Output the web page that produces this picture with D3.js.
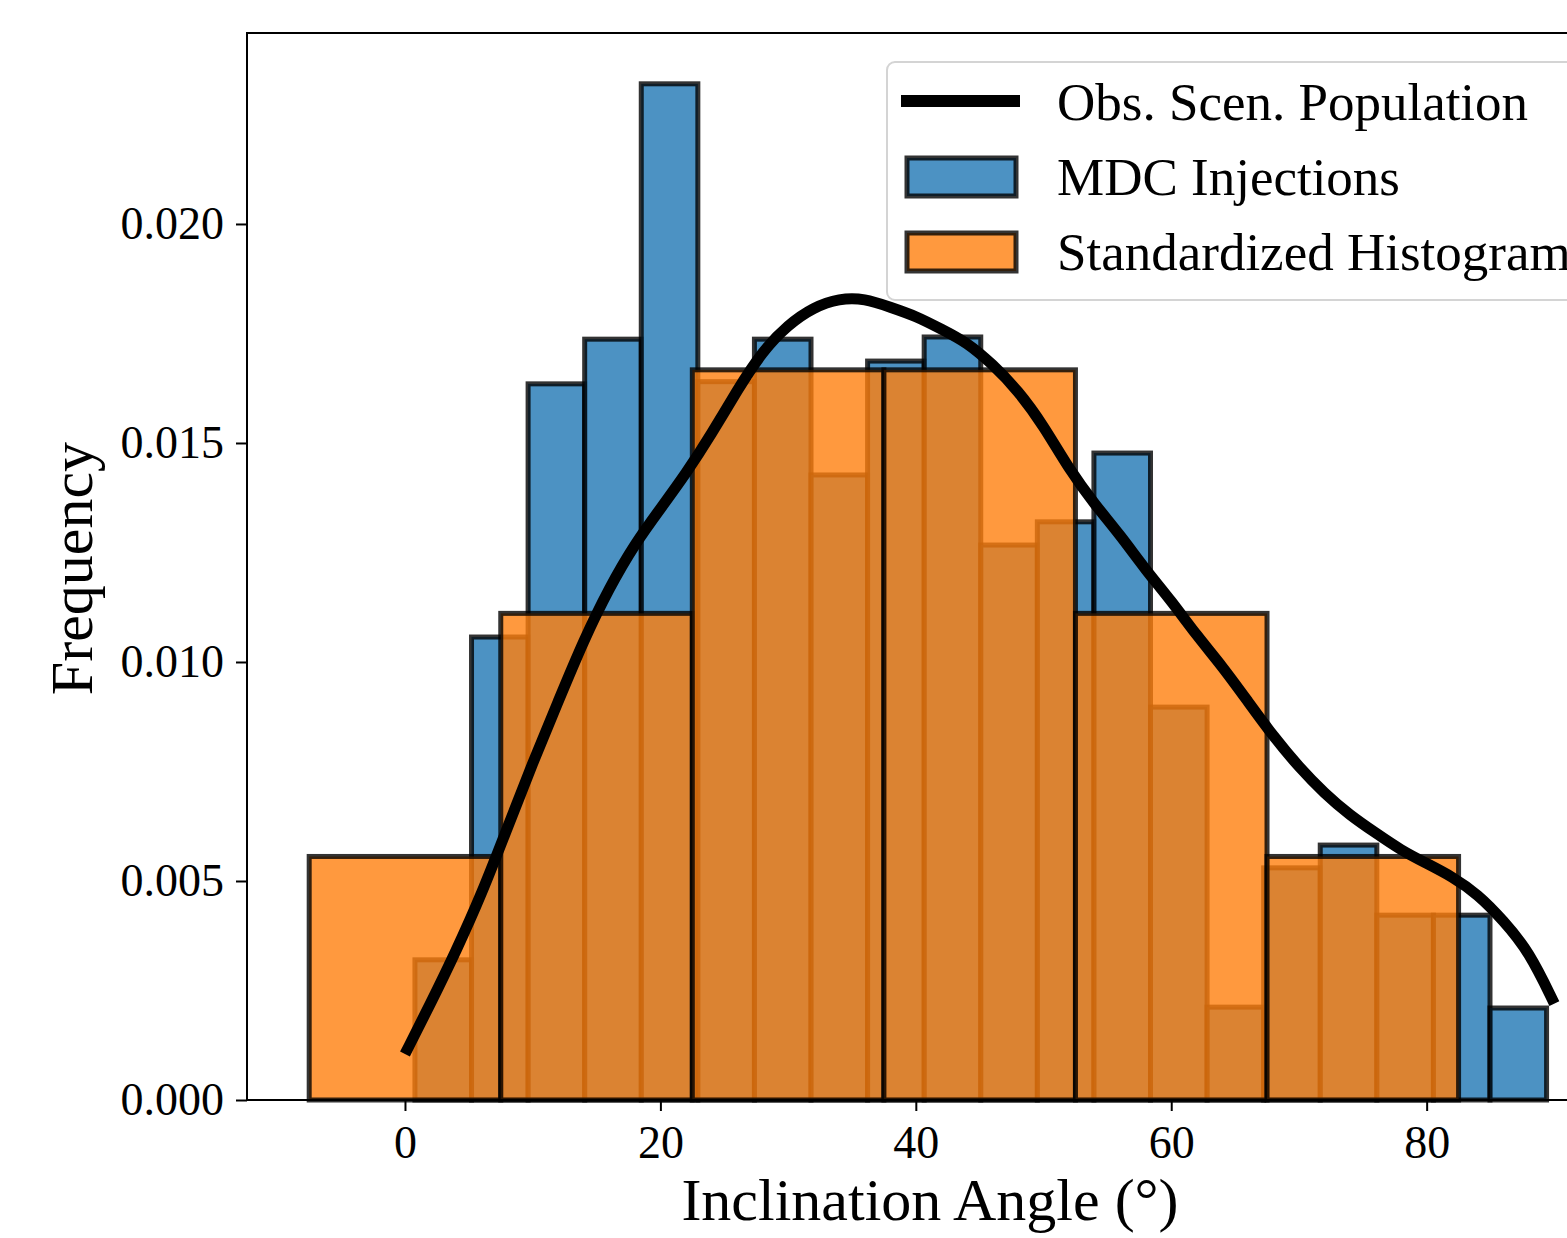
<!DOCTYPE html>
<html>
<head>
<meta charset="utf-8">
<script src="https://cdn.jsdelivr.net/npm/d3@7"></script>
<style>
    body { margin: 0; background: #fff; }
    svg { display: block; font-family: "Liberation Serif", "DejaVu Serif", serif; }
</style>
</head>
<body>
<div id="inclination-hist"></div>
<script>
// MDC injections, 20 equal bins between the min and max angle
const blueRange = [0.78, 89.39];
const blueDensity = [0.0032, 0.01057, 0.01635, 0.01737, 0.0232, 0.0164, 0.01737, 0.01427, 0.01687, 0.01742,
    0.01267, 0.0132, 0.01477, 0.00897, 0.00212, 0.0053, 0.00582, 0.00422, 0.00422, 0.0021];

// standardized histogram, 15 degree bins
const orangeEdges = [-7.5, 7.5, 22.5, 37.5, 52.5, 67.5, 82.5];
const orangeDensity = [0.00556, 0.01111, 0.01667, 0.01667, 0.01111, 0.00556];

// observing scenario population curve
const curveAngle = [0, 2, 4, 6, 8, 10, 12, 14, 16, 18, 20, 22, 24, 26, 28, 30, 32, 34, 36, 38, 40, 42, 44,
    46, 48, 50, 52, 54, 56, 58, 60, 62, 64, 66, 68, 70, 72, 74, 76, 78, 80, 82, 84, 86, 88, 90];
const curveDensity = [0.00105, 0.0022, 0.0034, 0.0047, 0.0062, 0.0077, 0.0091, 0.0105, 0.0117, 0.0127,
    0.0135, 0.0143, 0.0152, 0.0162, 0.0171, 0.0177, 0.0181, 0.0183, 0.0183, 0.0181, 0.0179, 0.0176, 0.0173,
    0.0168, 0.0162, 0.0154, 0.0144, 0.0136, 0.0129, 0.0121, 0.0114, 0.0106, 0.0099, 0.0091, 0.0083, 0.0076,
    0.0070, 0.0065, 0.0061, 0.0057, 0.0054, 0.0051, 0.0047, 0.0041, 0.0034, 0.0022];

const xTicks = [0, 20, 40, 60, 80];
const yTicks = [0, 0.005, 0.010, 0.015, 0.020];
const legendLabels = ["Obs. Scen. Population", "MDC Injections", "Standardized Histogram"];

render();

function render() {
    const width = 1567, height = 1238;
    const svg = d3.select('#inclination-hist').append('svg')
        .attr('width', width)
        .attr('height', height);

    // axes box runs past the right edge of the picture
    const plot = { left: 247, right: 1608, top: 33, bottom: 1100 };

    const x = d3.scaleLinear().domain([-12.37, 94.2]).range([plot.left, plot.right]);
    const y = d3.scaleLinear().domain([0, 0.02436]).range([plot.bottom, plot.top]);

    const blueColor = "#1f77b4", orangeColor = "#ff7f0e";
    const edge = "rgba(0,0,0,0.8)";

    // blue bins
    const step = (blueRange[1] - blueRange[0]) / blueDensity.length;
    const blueBins = blueDensity.map((d, i) => ({
        x0: blueRange[0] + i * step, x1: blueRange[0] + (i + 1) * step, v: d
    }));
    svg.append('g').selectAll('rect')
        .data(blueBins)
        .join('rect')
        .attr('x', d => x(d.x0))
        .attr('width', d => x(d.x1) - x(d.x0))
        .attr('y', d => y(d.v))
        .attr('height', d => y(0) - y(d.v))
        .attr('fill', blueColor)
        .attr('fill-opacity', 0.8)
        .attr('stroke', edge)
        .attr('stroke-width', 5);

    const orangeBins = orangeDensity.map((d, i) => ({ x0: orangeEdges[i], x1: orangeEdges[i + 1], v: d }));
    svg.append('g').selectAll('rect')
        .data(orangeBins)
        .join('rect')
        .attr('x', d => x(d.x0))
        .attr('width', d => x(d.x1) - x(d.x0))
        .attr('y', d => y(d.v))
        .attr('height', d => y(0) - y(d.v))
        .attr('fill', orangeColor)
        .attr('fill-opacity', 0.8)
        .attr('stroke', edge)
        .attr('stroke-width', 5);

    const line = d3.line()
        .x(d => x(d[0]))
        .y(d => y(d[1]))
        .curve(d3.curveBasis);
    svg.append('path')
        .datum(d3.zip(curveAngle, curveDensity))
        .attr('d', line)
        .attr('fill', 'none')
        .attr('stroke', '#000')
        .attr('stroke-width', 11);

    // axes
    const xAxis = svg.append('g')
        .attr('transform', `translate(0,${plot.bottom})`)
        .call(d3.axisBottom(x).tickValues(xTicks).tickSize(11).tickPadding(14).tickFormat(d3.format('d')));
    const yAxis = svg.append('g')
        .attr('transform', `translate(${plot.left},0)`)
        .call(d3.axisLeft(y).tickValues(yTicks).tickSize(11).tickPadding(12).tickFormat(d3.format('.3f')));
    [xAxis, yAxis].forEach(a => {
        a.select('.domain').remove();
        a.selectAll('line').attr('stroke', '#000').attr('stroke-width', 2);
        a.selectAll('text').attr('font-size', 46).attr('fill', '#000')
            .attr('font-family', '"Liberation Serif", "DejaVu Serif", serif');
    });

    svg.append('rect')
        .attr('x', plot.left)
        .attr('y', plot.top)
        .attr('width', plot.right - plot.left)
        .attr('height', plot.bottom - plot.top)
        .attr('fill', 'none')
        .attr('stroke', '#000')
        .attr('stroke-width', 2);

    svg.append('text')
        .attr('x', 930)
        .attr('y', 1220)
        .attr('text-anchor', 'middle')
        .attr('font-size', 60)
        .text('Inclination Angle (°)');

    svg.append('text')
        .attr('transform', `translate(92,${(plot.top + plot.bottom) / 2 + 2}) rotate(-90)`)
        .attr('text-anchor', 'middle')
        .attr('font-size', 60)
        .text('Frequency');

    // legend
    const lg = svg.append('g').attr('transform', 'translate(887,62)');
    lg.append('rect')
        .attr('width', 760)
        .attr('height', 238)
        .attr('rx', 8)
        .attr('fill', '#fff')
        .attr('fill-opacity', 0.8)
        .attr('stroke', '#d4d4d4')
        .attr('stroke-width', 2);
    lg.append('line')
        .attr('x1', 14).attr('x2', 133)
        .attr('y1', 39).attr('y2', 39)
        .attr('stroke', '#000')
        .attr('stroke-width', 12);
    [blueColor, orangeColor].forEach((c, i) => {
        lg.append('rect')
            .attr('x', 20)
            .attr('y', 96 + i * 75)
            .attr('width', 109)
            .attr('height', 38)
            .attr('fill', c)
            .attr('fill-opacity', 0.8)
            .attr('stroke', edge)
            .attr('stroke-width', 5);
    });
    lg.selectAll('text.lab')
        .data(legendLabels)
        .join('text')
        .attr('class', 'lab')
        .attr('x', 170)
        .attr('y', (d, i) => 58 + i * 75)
        .attr('font-size', 53)
        .text(d => d);
}
</script>
</body>
</html>
